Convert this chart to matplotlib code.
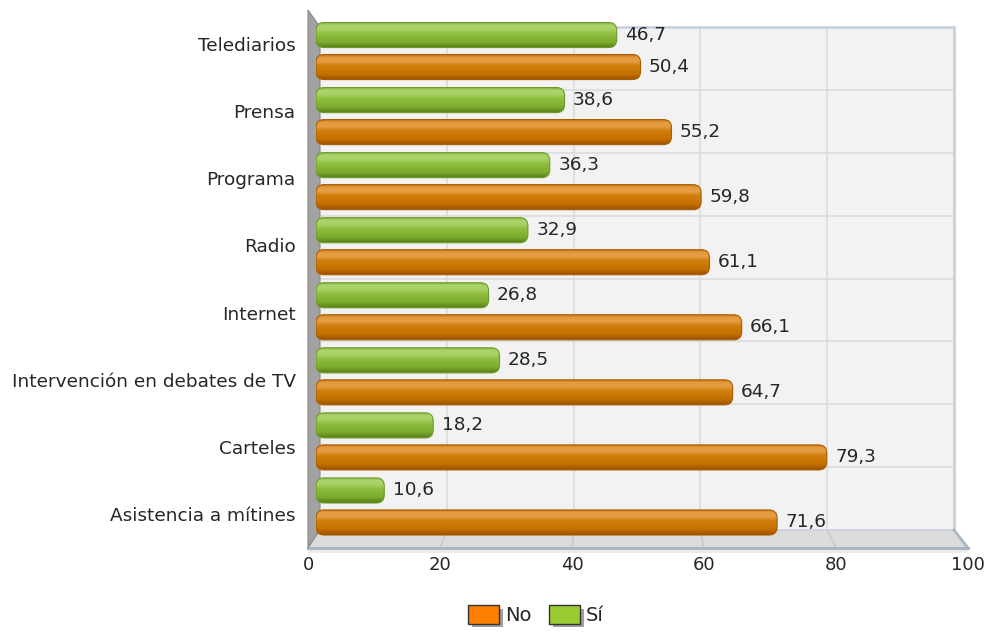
import matplotlib
matplotlib.use("Agg")
import matplotlib.pyplot as plt
import numpy as np
from matplotlib.patches import FancyBboxPatch, Polygon, Patch
from matplotlib.colors import to_rgb
import matplotlib.patheffects as pe

categories = ["Telediarios", "Prensa", "Programa", "Radio", "Internet",
              "Intervención en debates de TV", "Carteles", "Asistencia a mítines"]
si_values = [46.7, 38.6, 36.3, 32.9, 26.8, 28.5, 18.2, 10.6]
no_values = [50.4, 55.2, 59.8, 61.1, 66.1, 64.7, 79.3, 71.6]
x_ticks = [0, 20, 40, 60, 80, 100]
legend_labels = ["No", "Sí"]

W, H = 989, 632
fig = plt.figure(figsize=(W / 100, H / 100), dpi=100)
fig.patch.set_facecolor("white")
plt.rcParams["font.family"] = ["DejaVu Sans"]
TXT = "#262626"
FS = 13.3


def box(l, t, r, b):
    return [l / W, 1 - b / H, (r - l) / W, (b - t) / H]


def fp(x, y):
    return (x / W, 1 - y / H)


n = len(categories)
ypos = np.arange(n)

# back wall
ax_back = fig.add_axes(box(320, 27, 954, 530))
ax_back.set_facecolor("#f2f2f2")
ax_back.set_xlim(0, 100)
ax_back.set_ylim(n - 0.5, -0.5)
for v in x_ticks[1:-1]:
    ax_back.axvline(v, color="#dcdcdc", lw=1.2)
for b in np.arange(0.5, n - 0.5, 1):
    ax_back.axhline(b, color="#dcdcdc", lw=1.2)
ax_back.set_xticks([])
ax_back.set_yticks([])
for s in ["left", "bottom"]:
    ax_back.spines[s].set_visible(False)
for s in ["top", "right"]:
    ax_back.spines[s].set_color("#c9d2dc")
    ax_back.spines[s].set_linewidth(2)
ax_back.set_zorder(0)

# front axes for labels
ax_front = fig.add_axes(box(308, 10, 968, 548))
ax_front.set_xlim(0, 100)
ax_front.set_ylim(n - 0.5, -0.5)
ax_front.patch.set_alpha(0)
for s in ax_front.spines.values():
    s.set_visible(False)
ax_front.set_xticks(x_ticks)
ax_front.set_xticklabels([str(t) for t in x_ticks], fontsize=13, color=TXT)
ax_front.set_yticks(ypos)
ax_front.set_yticklabels(categories, fontsize=FS, color=TXT)
ax_front.tick_params(axis="x", length=0, pad=6)
ax_front.tick_params(axis="y", length=0, pad=9)
ax_front.set_zorder(3)

# floor and left wall (pseudo 3D), positions from the axes transforms
fig.canvas.draw()
inv = fig.transFigure.inverted()


def to_fig(ax, x, y):
    return inv.transform(ax.transData.transform((x, y)))


bl_back = to_fig(ax_back, 0, n - 0.5)
br_back = to_fig(ax_back, 100, n - 0.5)
tl_back = to_fig(ax_back, 0, -0.5)
bl_front = to_fig(ax_front, 0, n - 0.5)
br_front = to_fig(ax_front, 100, n - 0.5)
tl_front = to_fig(ax_front, 0, -0.5)

floor = Polygon([bl_front, br_front, br_back, bl_back], closed=True,
                transform=fig.transFigure, facecolor="#dcdcdc",
                edgecolor="none", zorder=1)
fig.patches.append(floor)
for v in x_ticks[1:-1]:
    p0 = to_fig(ax_back, v, n - 0.5)
    p1 = to_fig(ax_front, v, n - 0.5)
    fig.add_artist(plt.Line2D([p0[0], p1[0]], [p0[1], p1[1]],
                              transform=fig.transFigure, color="#c8c8c8",
                              lw=1.2, zorder=1.1))
fig.add_artist(plt.Line2D([bl_back[0], br_back[0]], [bl_back[1], br_back[1]],
                          transform=fig.transFigure, color="#c9d2dc", lw=1.2, zorder=1.15))
fig.add_artist(plt.Line2D([bl_front[0], br_front[0]], [bl_front[1], br_front[1]],
                          transform=fig.transFigure, color="#a9b6c4", lw=2.2, zorder=1.2))
fig.add_artist(plt.Line2D([br_back[0], br_front[0]], [br_back[1], br_front[1]],
                          transform=fig.transFigure, color="#a9b6c4", lw=2.0, zorder=1.2))
# thin floor thickness band
band = Polygon([bl_front, br_front, (br_front[0], br_front[1] - 5 / H),
                (bl_front[0], bl_front[1] - 5 / H)], closed=True,
               transform=fig.transFigure, facecolor="#ececec", edgecolor="none", zorder=1)
fig.patches.append(band)

wall = Polygon([tl_front, tl_back, bl_back, bl_front], closed=True,
               transform=fig.transFigure, facecolor="#a2a2a2",
               edgecolor="#8a8a8a", lw=0.8, zorder=1.3)
fig.patches.append(wall)

# bars
ax_bar = fig.add_axes(box(316, 18.5, 960, 539))
ax_bar.set_xlim(0, 100)
ax_bar.set_ylim(n - 0.5, -0.5)
ax_bar.patch.set_alpha(0)
ax_bar.axis("off")
ax_bar.set_zorder(2)

bar_h = 0.385
off = 0.246
px_x = 644 / 100.0
px_y = 520.5 / n
aspect = px_x / px_y
rs = 1.25


def gradient(stops):
    pos = np.array([s[0] for s in stops])
    cols = np.array([to_rgb(s[1]) for s in stops])
    t = np.linspace(0, 1, 64)
    g = np.stack([np.interp(t, pos, cols[:, k]) for k in range(3)], axis=1)
    return g[:, None, :]


orange_grad = gradient([(0, "#c06c0a"), (0.12, "#e39a3c"), (0.28, "#e59e44"),
                        (0.45, "#d07e0c"), (0.78, "#c47000"), (1, "#975000")])
green_grad = gradient([(0, "#80b036"), (0.12, "#acd46c"), (0.28, "#a8d266"),
                       (0.45, "#8ebe40"), (0.78, "#7cab2e"), (1, "#557d16")])


def draw_bar(yc, val, grad, edge):
    y0 = yc - bar_h / 2
    patch = FancyBboxPatch((0, y0), val, bar_h,
                           boxstyle=f"round,pad=0,rounding_size={rs}",
                           mutation_aspect=aspect, facecolor="none",
                           edgecolor=edge, lw=0.8, zorder=3)
    ax_bar.add_patch(patch)
    im = ax_bar.imshow(grad, extent=(0, val, y0 + bar_h, y0), origin="upper",
                       aspect="auto", interpolation="bilinear", zorder=2)
    im.set_clip_path(patch)


for i in range(n):
    draw_bar(ypos[i] - off, si_values[i], green_grad, "#6f9a2a")
    draw_bar(ypos[i] + off, no_values[i], orange_grad, "#a85e04")
    for yc, v in ((ypos[i] - off, si_values[i]), (ypos[i] + off, no_values[i])):
        ax_bar.text(v + 1.3, yc, f"{v:.1f}".replace(".", ","), va="center",
                    ha="left", fontsize=FS, color=TXT)

ax_bar.set_xlim(0, 100)
ax_bar.set_ylim(n - 0.5, -0.5)

# legend
shadow = [pe.withSimplePatchShadow(offset=(2.5, -2.5), shadow_rgbFace="#777777", alpha=0.7)]
handles = [Patch(facecolor="#ff8000", edgecolor="#333333", lw=1.0, path_effects=shadow),
           Patch(facecolor="#99cc33", edgecolor="#333333", lw=1.0, path_effects=shadow)]
leg = fig.legend(handles, legend_labels, loc="center", bbox_to_anchor=fp(536, 615),
                 ncol=2, frameon=False, fontsize=14, handlelength=1.6,
                 handleheight=1.1, handletextpad=0.3, columnspacing=0.9)
for t in leg.get_texts():
    t.set_color(TXT)

fig.savefig("out.png", dpi=100)
